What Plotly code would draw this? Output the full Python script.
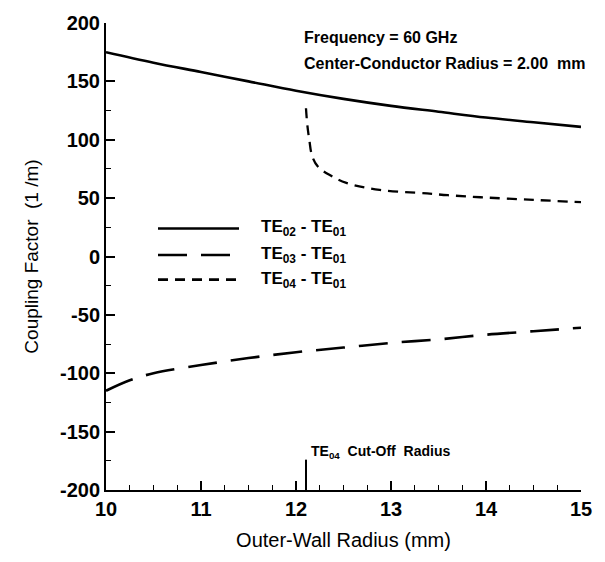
import plotly.graph_objects as go

# ---- data ----
r_te02 = [10.0, 10.5, 11.0, 11.5, 12.0, 12.5, 13.0, 13.5, 14.0, 14.5, 15.0]
k_te02 = [175, 166, 158, 150, 142, 135, 129, 124, 119, 115, 111]

r_te03 = [10.0, 10.25, 10.5, 11.0, 11.5, 12.0, 12.5, 13.0, 13.5, 14.0, 14.5, 15.0]
k_te03 = [-115, -106, -100, -93, -87, -82, -78, -74, -71, -67, -64, -61]

r_te04 = [12.105, 12.12, 12.14, 12.17, 12.23, 12.36, 12.53, 12.88, 13.38, 13.6, 14.0, 14.5, 15.0]
k_te04 = [127, 112, 100, 86, 77, 69.5, 63, 57, 54, 52.5, 50.5, 48.5, 46.5]

cutoff_radius = 12.105
cutoff_marker_top = -174

x_ticks = [10, 11, 12, 13, 14, 15]
y_ticks = [200, 150, 100, 50, 0, -50, -100, -150, -200]

FONT = "Liberation Sans, Arial, sans-serif"

fig = go.Figure()
fig.add_trace(go.Scatter(x=r_te02, y=k_te02, mode="lines", line=dict(color="black", width=2.6, shape="spline")))
fig.add_trace(go.Scatter(x=r_te03, y=k_te03, mode="lines", line=dict(color="black", width=2.6, dash="29px,14px", shape="spline")))
fig.add_trace(go.Scatter(x=r_te04, y=k_te04, mode="lines", line=dict(color="black", width=2.3, dash="10px,7px", shape="spline")))
fig.add_trace(go.Scatter(x=[cutoff_radius, cutoff_radius], y=[-200, cutoff_marker_top], mode="lines",
                         line=dict(color="black", width=2)))

L, R, T, B = 106, 24, 15, 72
W, H = 605, 562
pw, ph = W - L - R, H - T - B


def px(x):
    return (x - L) / pw


def py(y):
    return (H - B - y) / ph


shapes = []
annotations = []
legend_rows = [
    ("TE<sub>02</sub> - TE<sub>01</sub>", "solid", 224),
    ("TE<sub>03</sub> - TE<sub>01</sub>", "29px,14px", 251),
    ("TE<sub>04</sub> - TE<sub>01</sub>", "10px,7px", 276),
]
for label, dash, yy in legend_rows:
    shapes.append(dict(type="line", xref="paper", yref="paper", x0=px(158), x1=px(239), y0=py(yy), y1=py(yy),
                       line=dict(color="black", width=2.6, dash=dash)))
    annotations.append(dict(xref="paper", yref="paper", x=px(259), y=py(yy), text="<b>" + label + "</b>",
                            showarrow=False, xanchor="left", yanchor="middle",
                            font=dict(family=FONT, size=17, color="black")))

annotations.append(dict(xref="paper", yref="paper", x=px(302), y=py(30), text="<b>Frequency = 60 GHz</b>",
                        showarrow=False, xanchor="left", yanchor="middle",
                        font=dict(family=FONT, size=16, color="black")))
annotations.append(dict(xref="paper", yref="paper", x=px(302), y=py(56),
                        text="<b>Center-Conductor Radius = 2.00&nbsp; mm</b>",
                        showarrow=False, xanchor="left", yanchor="middle",
                        font=dict(family=FONT, size=16, color="black")))
annotations.append(dict(x=cutoff_radius, y=cutoff_marker_top, xref="x", yref="y",
                        text="<b>TE<sub>04</sub>&nbsp; Cut-Off&nbsp; Radius</b>", showarrow=False,
                        xanchor="left", yanchor="bottom", xshift=3, yshift=-3,
                        font=dict(family=FONT, size=14, color="black")))

fig.update_layout(
    width=W, height=H,
    margin=dict(l=L, r=R, t=T, b=B),
    paper_bgcolor="white", plot_bgcolor="white",
    showlegend=False,
    shapes=shapes, annotations=annotations,
    font=dict(family=FONT, color="black"),
)
fig.update_xaxes(
    range=[10, 15], tickvals=x_ticks, ticktext=[str(v) for v in x_ticks],
    showgrid=False, zeroline=False, showline=True, linecolor="black", linewidth=2,
    ticks="inside", ticklen=9, tickwidth=1.5, tickcolor="black",
    minor=dict(dtick=0.25, ticks="inside", ticklen=5, tickwidth=1, tickcolor="black"),
    tickfont=dict(family=FONT, size=20, color="black", weight="bold"),
    title=dict(text="Outer-Wall Radius (mm)", font=dict(family=FONT, size=20, color="black"), standoff=14),
)
fig.update_yaxes(
    range=[-200, 200], tickvals=y_ticks, ticktext=[str(v) for v in y_ticks],
    showgrid=False, zeroline=False, showline=True, linecolor="black", linewidth=2,
    ticks="inside", ticklen=9, tickwidth=1.5, tickcolor="black",
    minor=dict(dtick=25, ticks="inside", ticklen=5, tickwidth=1, tickcolor="black"),
    tickfont=dict(family=FONT, size=20, color="black", weight="bold"),
    title=dict(text="Coupling Factor&nbsp; (1 /m)", font=dict(family=FONT, size=19, color="black"), standoff=16),
)

fig.write_html("out.html")
